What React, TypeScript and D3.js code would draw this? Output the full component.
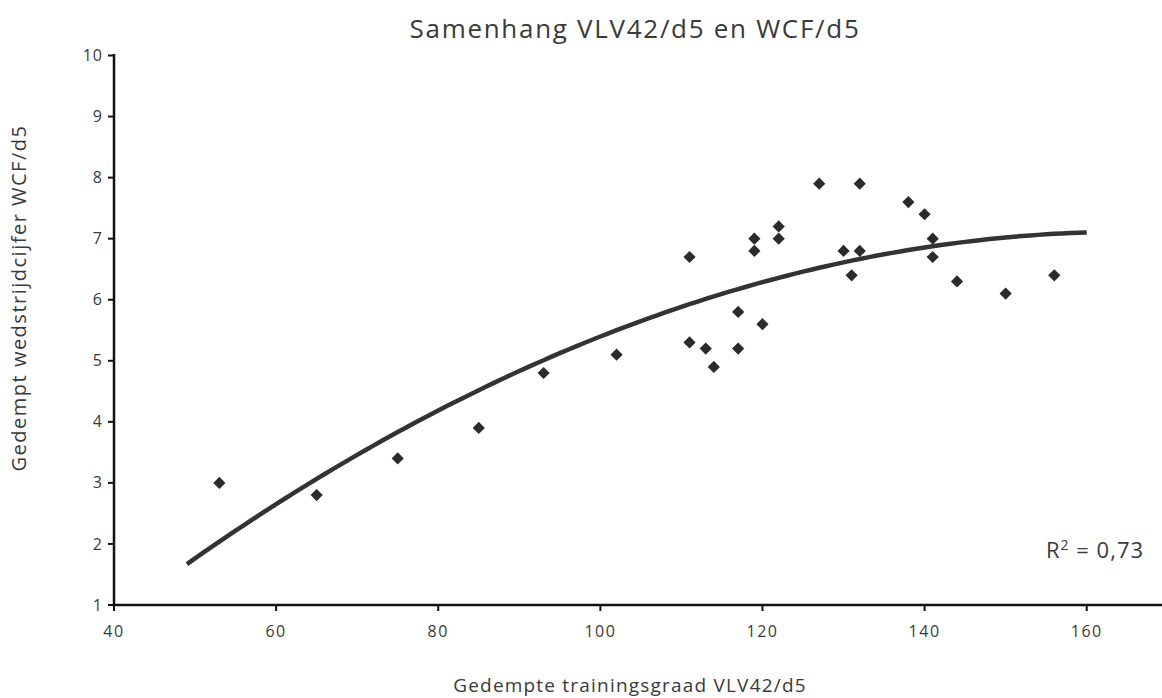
import React from "react";
import * as d3 from "d3";

const xValues = [53, 65, 75, 85, 93, 102, 111, 111, 113, 114, 117, 117, 119, 119, 120, 122, 122, 127, 130, 131, 132, 132, 138, 140, 141, 141, 144, 150, 156];
const yValues = [3.0, 2.8, 3.4, 3.9, 4.8, 5.1, 6.7, 5.3, 5.2, 4.9, 5.8, 5.2, 7.0, 6.8, 5.6, 7.2, 7.0, 7.9, 6.8, 6.4, 7.9, 6.8, 7.6, 7.4, 7.0, 6.7, 6.3, 6.1, 6.4];
const xTicks = [40, 60, 80, 100, 120, 140, 160];
const yTicks = [1, 2, 3, 4, 5, 6, 7, 8, 9, 10];
// Polynomial (order 2) trendline coefficients: y = a + b*(x-105) + c*(x-105)^2
const trendA = 5.65;
const trendB = 0.04853;
const trendC = -0.0004023;
const trendRange = [49, 160];

const W = 1162;
const H = 698;
const FONT = "'Open Sans', Lato, sans-serif";
const TXT = "#3a3a3a";

export default function App() {
  const x = d3.scaleLinear().domain([40, 170]).range([114, 114 + 130 * 8.106]);
  const y = d3.scaleLinear().domain([1, 10]).range([605, 55.5]);
  const trendPts: [number, number][] = d3
    .range(trendRange[0], trendRange[1] + 0.01, 1)
    .map((v) => [v, trendA + trendB * (v - 105) + trendC * (v - 105) * (v - 105)]);
  const line = d3
    .line<[number, number]>()
    .x((d) => x(d[0]))
    .y((d) => y(d[1]))
    .curve(d3.curveMonotoneX);
  const diamond = d3.symbol().type(d3.symbolDiamond2).size(95)();

  return (
    <svg width={W} height={H} style={{ position: "absolute", left: 0, top: 0, background: "#fff" }}>
      <text x={635} y={38} textAnchor="middle" fontFamily={FONT} fontSize={26} letterSpacing={1.7} fill={TXT}>
        Samenhang VLV42/d5 en WCF/d5
      </text>
      {/* Y axis */}
      <line x1={114} x2={114} y1={54} y2={606} stroke="#111" strokeWidth={2.5} />
      {yTicks.map((t) => (
        <g key={"y" + t}>
          <line x1={108} x2={114} y1={y(t)} y2={y(t)} stroke="#111" strokeWidth={2} />
          <text x={103} y={y(t)} dy="0.35em" textAnchor="end" fontFamily={FONT} fontSize={16} letterSpacing={1} fill={TXT}>
            {t}
          </text>
        </g>
      ))}
      {/* X axis */}
      <line x1={113} x2={1162} y1={605} y2={605} stroke="#111" strokeWidth={2.5} />
      {xTicks.map((t) => (
        <g key={"x" + t}>
          <line x1={x(t)} x2={x(t)} y1={605} y2={611} stroke="#111" strokeWidth={2} />
          <text x={x(t)} y={637} textAnchor="middle" fontFamily={FONT} fontSize={16} letterSpacing={1.5} fill={TXT}>
            {t}
          </text>
        </g>
      ))}
      <text
        transform={`translate(26,298) rotate(-90)`}
        textAnchor="middle"
        fontFamily={FONT}
        fontSize={20}
        letterSpacing={1.5}
        fill={TXT}
      >
        Gedempt wedstrijdcijfer WCF/d5
      </text>
      <text x={630} y={692} textAnchor="middle" fontFamily={FONT} fontSize={19} letterSpacing={1.2} fill={TXT}>
        Gedempte trainingsgraad VLV42/d5
      </text>
      <path d={line(trendPts) || ""} fill="none" stroke="#333" strokeWidth={4.5} />
      {xValues.map((v, i) => (
        <path key={i} d={diamond || ""} transform={`translate(${x(v)},${y(yValues[i])})`} fill="#2b2b2b" />
      ))}
      <text x={1046} y={558} fontFamily={FONT} fontSize={22} letterSpacing={1} fill={TXT}>
        R<tspan dy={-8} fontSize={14}>2</tspan>
        <tspan dy={8}> = 0,73</tspan>
      </text>
    </svg>
  );
}
